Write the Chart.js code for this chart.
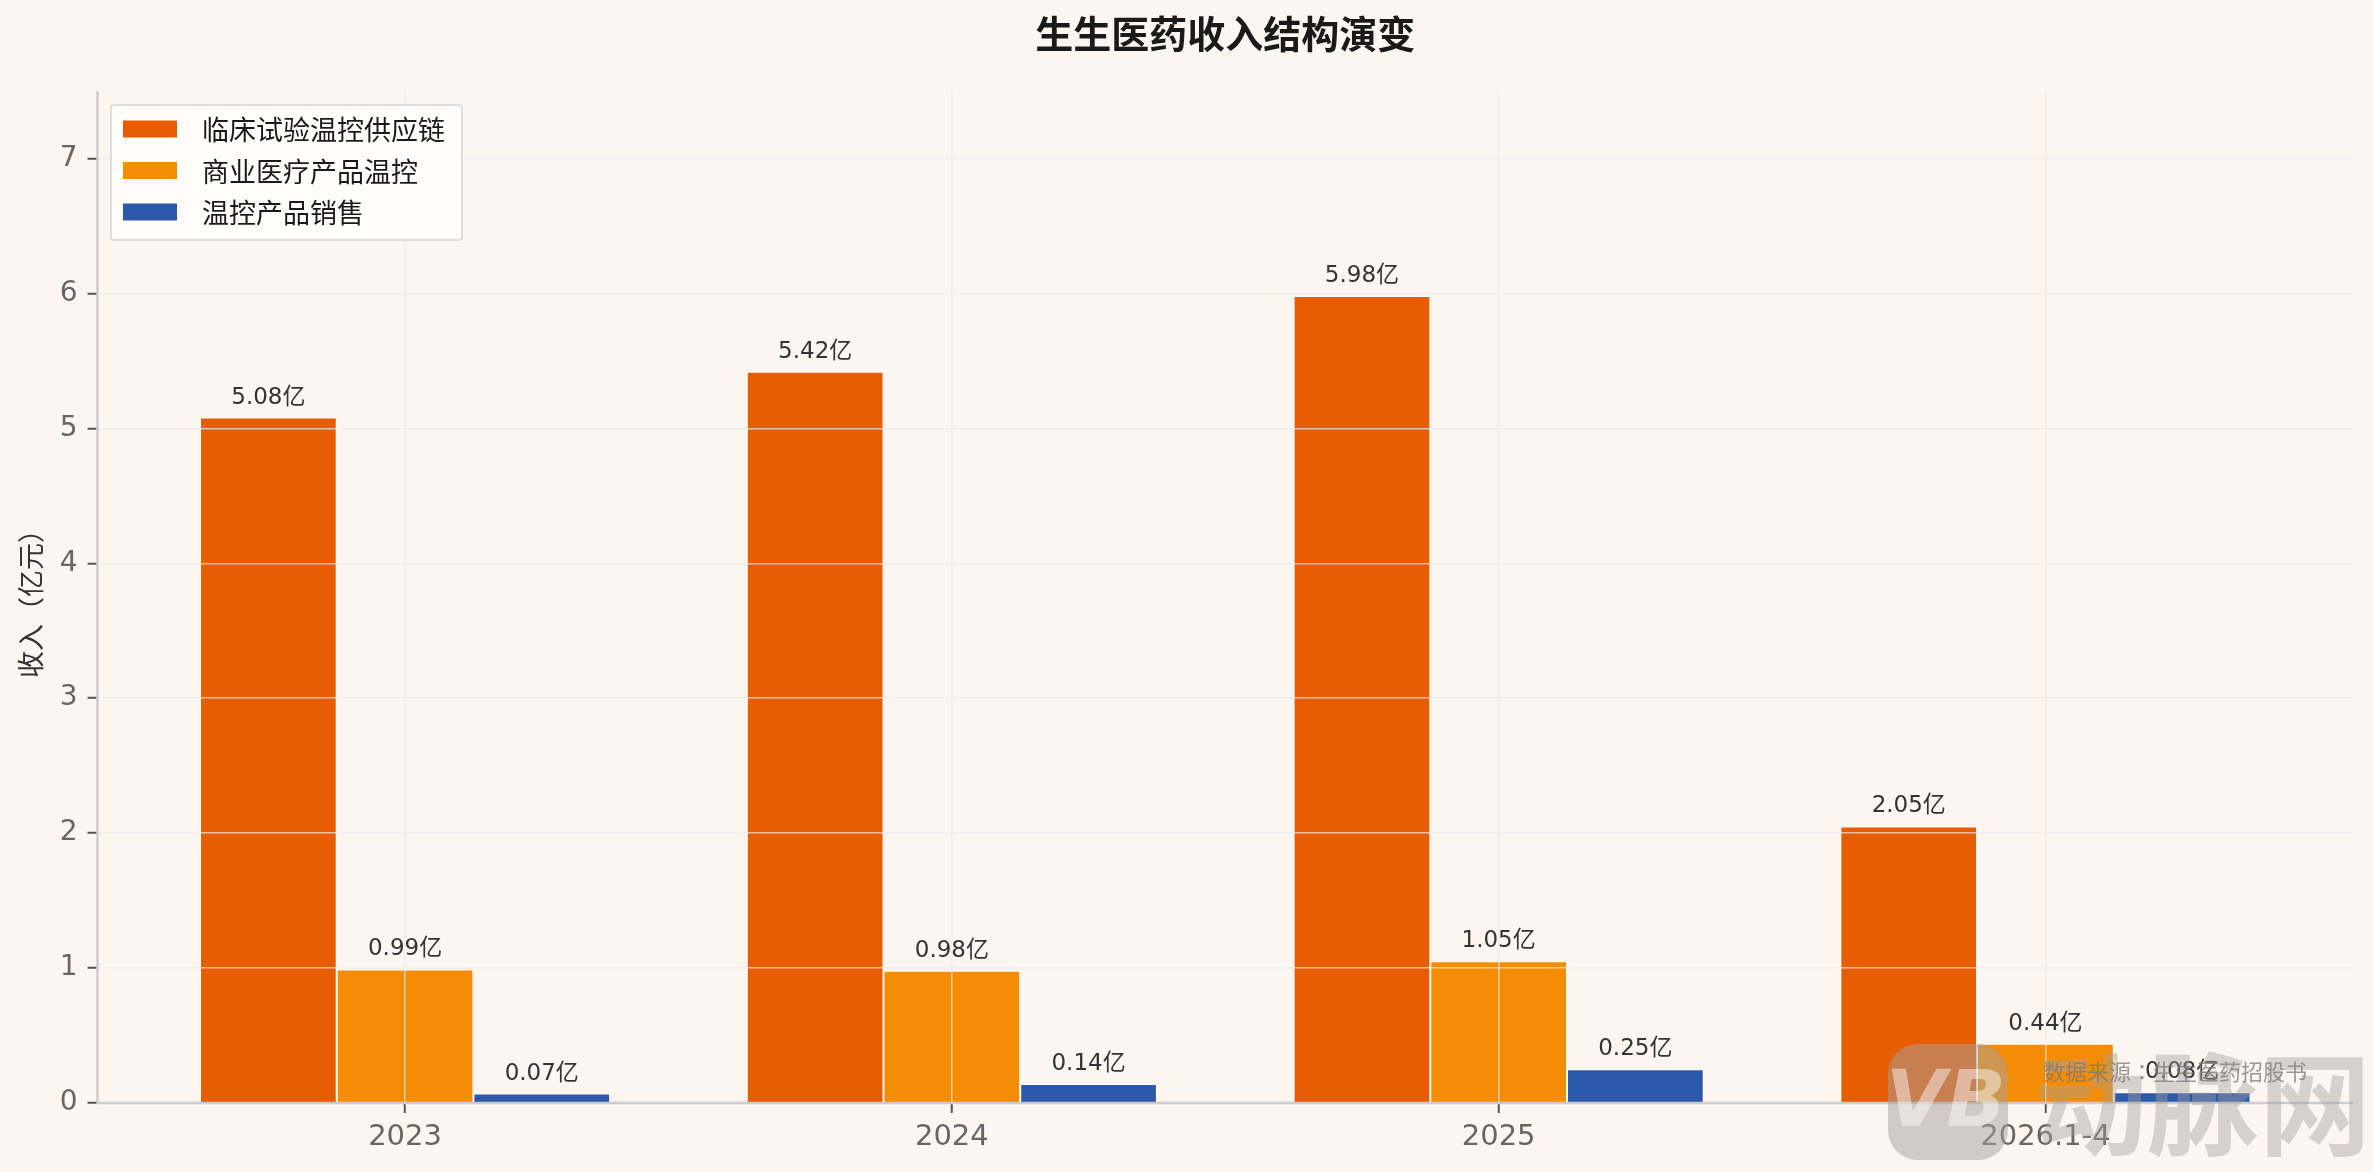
<!DOCTYPE html>
<html>
<head>
<meta charset="utf-8">
<script src="https://cdn.jsdelivr.net/npm/chart.js@4/dist/chart.umd.min.js"></script>
<style>
  html, body { margin: 0; padding: 0; background: #fcf5f0; }
  canvas { display: block; }
</style>
</head>
<body>
<canvas id="c" width="2373" height="1172"></canvas>
<script>
// ---- data ----
const categories = ['2023', '2024', '2025', '2026.1-4'];
const seriesNames = ['临床试验温控供应链', '商业医疗产品温控', '温控产品销售'];
const clinicalSupply = [5.08, 5.42, 5.98, 2.05];
const commercialTemp = [0.99, 0.98, 1.05, 0.44];
const productSales = [0.07, 0.14, 0.25, 0.08];
const yTicks = [0, 1, 2, 3, 4, 5, 6, 7];
const titleText = '生生医药收入结构演变';
const yAxisTitle = '收入（亿元）';
const sourceText = '数据来源：生生医药招股书';
const watermarkText = '动脉网';

const colors = ['#E85D04', '#F48C06', '#2C5AAB'];
const FONT = "'DejaVu Sans', 'Noto Sans CJK SC', sans-serif";
const CJK = "'Noto Sans CJK SC', 'DejaVu Sans', sans-serif";
const CJK_TC = "'Noto Sans CJK TC', 'Noto Sans CJK SC', sans-serif";

const toPoints = arr => arr.map((v, i) => ({ x: i, y: v }));

const decor = {
  id: 'decor',
  beforeDraw(chart) {
    const ctx = chart.ctx;
    ctx.save();
    ctx.fillStyle = '#fcf5f0';
    ctx.fillRect(0, 0, chart.width, chart.height);
    ctx.restore();
  },
  afterDraw(chart) {
    const ctx = chart.ctx;
    const area = chart.chartArea;
    const xs = chart.scales.x, ys = chart.scales.y;
    ctx.save();
    // axis spines (left and bottom)
    const x0 = xs.getPixelForValue(xs.min);
    const x1 = xs.getPixelForValue(xs.max);
    const y0 = ys.getPixelForValue(0);
    const yTop = ys.getPixelForValue(ys.max);
    ctx.strokeStyle = '#cccccc';
    ctx.lineWidth = 2.5;
    ctx.beginPath();
    ctx.moveTo(x0, yTop);
    ctx.lineTo(x0, y0);
    ctx.lineTo(x1, y0);
    ctx.stroke();
    // value labels
    ctx.font = `23px ${FONT}`;
    ctx.fillStyle = '#333333';
    ctx.textAlign = 'center';
    ctx.textBaseline = 'alphabetic';
    chart.data.datasets.forEach((ds, di) => {
      const meta = chart.getDatasetMeta(di);
      meta.data.forEach((el, i) => {
        const v = ds.data[i].y;
        ctx.fillText(v.toFixed(2) + '亿', el.x, el.y - 14);
      });
    });
    // title
    ctx.font = `bold 38px ${CJK}`;
    ctx.fillStyle = '#1a1a1a';
    ctx.textAlign = 'center';
    ctx.textBaseline = 'middle';
    ctx.fillText(titleText, (area.left + area.right) / 2, 34);
    // y axis title
    ctx.save();
    ctx.translate(31, (area.top + area.bottom) / 2);
    ctx.rotate(-Math.PI / 2);
    ctx.font = `27px ${CJK}`;
    ctx.fillStyle = '#333333';
    ctx.textAlign = 'center';
    ctx.textBaseline = 'middle';
    ctx.fillText(yAxisTitle, 0, 0);
    ctx.restore();
    // legend
    const lx = 111, ly = 105, lw = 351, lh = 135;
    ctx.fillStyle = 'rgba(255,255,255,0.8)';
    ctx.strokeStyle = '#dedede';
    ctx.lineWidth = 2;
    ctx.beginPath();
    ctx.roundRect(lx, ly, lw, lh, 3);
    ctx.fill();
    ctx.stroke();
    ctx.font = `27px ${CJK}`;
    ctx.textAlign = 'left';
    ctx.textBaseline = 'middle';
    chart.data.datasets.forEach((ds, di) => {
      const cy = 129 + di * 41.5;
      ctx.fillStyle = ds.backgroundColor;
      ctx.fillRect(123, cy - 8.5, 54, 17);
      ctx.fillStyle = '#1a1a1a';
      ctx.fillText(ds.label, 202, cy + 1);
    });
    // watermark logo (approximation)
    ctx.fillStyle = 'rgba(165,160,155,0.5)';
    ctx.beginPath();
    ctx.roundRect(1888, 1044, 120, 116, 30);
    ctx.fill();
    ctx.font = `bold italic 78px ${FONT}`;
    ctx.fillStyle = 'rgba(255,255,255,0.45)';
    ctx.textAlign = 'center';
    ctx.fillText('VB', 1946, 1106);
    ctx.font = `bold 112px ${CJK}`;
    ctx.fillStyle = 'rgba(165,160,155,0.42)';
    ctx.textAlign = 'left';
    ctx.fillText(watermarkText, 2035, 1104);
    // source text
    ctx.font = `22px ${CJK_TC}`;
    ctx.fillStyle = 'rgba(120,120,120,0.75)';
    ctx.textAlign = 'right';
    ctx.textBaseline = 'middle';
    ctx.fillText(sourceText, 2307, 1072);
    ctx.restore();
  }
};

const gridColor = 'rgba(235,235,235,0.7)';

new Chart(document.getElementById('c'), {
  type: 'bar',
  data: {
    datasets: [
      { label: seriesNames[0], data: toPoints(clinicalSupply), backgroundColor: colors[0] },
      { label: seriesNames[1], data: toPoints(commercialTemp), backgroundColor: colors[1] },
      { label: seriesNames[2], data: toPoints(productSales), backgroundColor: colors[2] }
    ].map(d => Object.assign(d, { borderColor: '#ffffff', borderWidth: 1, categoryPercentage: 0.75, barPercentage: 1 }))
  },
  options: {
    responsive: false,
    animation: false,
    devicePixelRatio: 1,
    layout: { padding: { top: 91, right: 20, left: 0, bottom: 0 } },
    plugins: { legend: { display: false }, title: { display: false }, tooltip: { enabled: false } },
    scales: {
      x: {
        type: 'linear',
        min: -0.5625,
        max: 3.5625,
        offset: false,
        afterBuildTicks: axis => { axis.ticks = categories.map((c, i) => ({ value: i })); },
        afterFit: s => { s.height = 69; },
        grid: { z: 1, offset: false, color: gridColor, lineWidth: 1.5, tickColor: '#555', tickWidth: 2, tickLength: 10 },
        border: { display: false },
        ticks: {
          z: 1,
          autoSkip: false,
          maxRotation: 0,
          padding: 7,
          color: '#666666',
          font: { family: FONT, size: 29 },
          callback: v => categories[v] ?? ''
        }
      },
      y: {
        min: 0,
        max: 7.5,
        afterBuildTicks: axis => { axis.ticks = yTicks.map(v => ({ value: v })); },
        afterFit: s => { s.width = 97.5; },
        grid: { z: 1, color: gridColor, lineWidth: 1.5, tickColor: '#555', tickWidth: 2, tickLength: 10 },
        border: { display: false },
        ticks: {
          z: 1,
          padding: 10,
          color: '#666666',
          font: { family: FONT, size: 28 },
          callback: v => String(v)
        }
      }
    }
  },
  plugins: [decor]
});
</script>
</body>
</html>
